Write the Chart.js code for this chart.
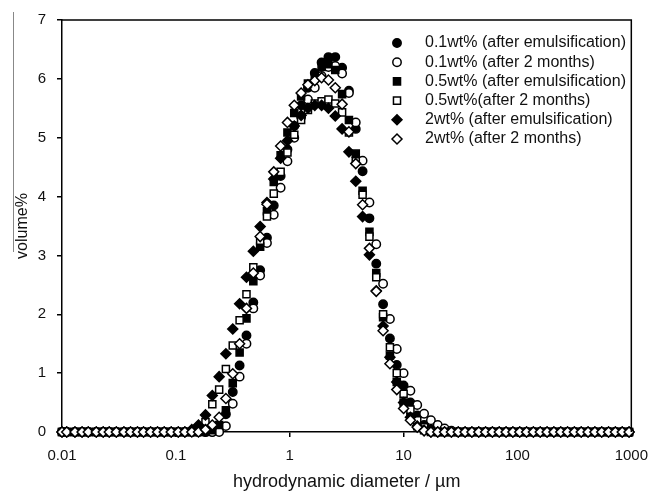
<!DOCTYPE html>
<html>
<head>
<meta charset="utf-8">
<title>Particle size distribution</title>
<script src="https://cdn.jsdelivr.net/npm/chart.js@4.4.1/dist/chart.umd.min.js"></script>
<style>
  html, body { margin: 0; padding: 0; background: #fff; }
  canvas { display: block; }
</style>
</head>
<body>
<canvas id="psd" width="658" height="494"></canvas>
<script>
// size classes (µm), log spaced
const sizes = [
  0.010, 0.011, 0.013, 0.015, 0.017, 0.020, 0.023, 0.026, 0.030, 0.035,
  0.040, 0.046, 0.052, 0.060, 0.069, 0.079, 0.091, 0.105, 0.120, 0.138,
  0.158, 0.182, 0.209, 0.240, 0.275, 0.316, 0.363, 0.417, 0.479, 0.550,
  0.631, 0.724, 0.832, 0.955, 1.096, 1.259, 1.445, 1.660, 1.905, 2.188,
  2.512, 2.884, 3.311, 3.802, 4.365, 5.012, 5.754, 6.607, 7.586, 8.710,
  10.00, 11.48, 13.18, 15.14, 17.38, 19.95, 22.91, 26.30, 30.20, 34.67,
  39.81, 45.71, 52.48, 60.26, 69.18, 79.43, 91.20, 104.7, 120.2, 138.0,
  158.5, 182.0, 208.9, 239.9, 275.4, 316.2, 363.1, 416.9, 478.6, 549.5,
  631.0, 724.4, 831.8, 955.0
];

const wt01Fresh = [
  0, 0, 0, 0, 0, 0, 0, 0, 0, 0,
  0, 0, 0, 0, 0, 0, 0, 0, 0, 0,
  0, 0, 0, 0.05, 0.30, 0.68, 1.13, 1.64, 2.20, 2.75,
  3.30, 3.85, 4.35, 4.80, 5.20, 5.55, 5.85, 6.10, 6.28, 6.37,
  6.37, 6.19, 5.80, 5.15, 4.43, 3.63, 2.86, 2.17, 1.59, 1.14,
  0.79, 0.50, 0.28, 0.12, 0.04, 0, 0, 0, 0, 0,
  0, 0, 0, 0, 0, 0, 0, 0, 0, 0,
  0, 0, 0, 0, 0, 0, 0, 0, 0, 0,
  0, 0, 0, 0
];
const wt01Aged = [
  0, 0, 0, 0, 0, 0, 0, 0, 0, 0,
  0, 0, 0, 0, 0, 0, 0, 0, 0, 0,
  0, 0, 0, 0, 0.10, 0.48, 0.94, 1.50, 2.10, 2.66,
  3.21, 3.69, 4.15, 4.60, 5.00, 5.35, 5.65, 5.85, 6.05, 6.20,
  6.22, 6.09, 5.76, 5.26, 4.61, 3.90, 3.19, 2.52, 1.92, 1.41,
  1.00, 0.70, 0.46, 0.31, 0.20, 0.12, 0.06, 0.02, 0, 0,
  0, 0, 0, 0, 0, 0, 0, 0, 0, 0,
  0, 0, 0, 0, 0, 0, 0, 0, 0, 0,
  0, 0, 0, 0
];
const wt05Fresh = [
  0, 0, 0, 0, 0, 0, 0, 0, 0, 0,
  0, 0, 0, 0, 0, 0, 0, 0, 0, 0,
  0, 0, 0.03, 0.12, 0.37, 0.83, 1.35, 1.93, 2.56, 3.15,
  3.75, 4.25, 4.70, 5.09, 5.42, 5.70, 5.92, 6.05, 6.20, 6.25,
  6.15, 5.74, 5.30, 4.73, 4.10, 3.40, 2.70, 1.95, 1.30, 0.85,
  0.50, 0.25, 0.10, 0.03, 0, 0, 0, 0, 0, 0,
  0, 0, 0, 0, 0, 0, 0, 0, 0, 0,
  0, 0, 0, 0, 0, 0, 0, 0, 0, 0,
  0, 0, 0, 0
];
const wt05Aged = [
  0, 0, 0, 0, 0, 0, 0, 0, 0, 0,
  0, 0, 0, 0, 0, 0, 0, 0, 0, 0,
  0.05, 0.17, 0.47, 0.72, 1.07, 1.47, 1.90, 2.34, 2.80, 3.25,
  3.66, 4.05, 4.42, 4.75, 5.05, 5.30, 5.47, 5.58, 5.62, 5.65,
  5.58, 5.43, 5.09, 4.60, 4.03, 3.32, 2.63, 2.00, 1.44, 1.00,
  0.65, 0.38, 0.20, 0.08, 0.02, 0, 0, 0, 0, 0,
  0, 0, 0, 0, 0, 0, 0, 0, 0, 0,
  0, 0, 0, 0, 0, 0, 0, 0, 0, 0,
  0, 0, 0, 0
];
const wt2Fresh = [
  0, 0, 0, 0, 0, 0, 0, 0, 0, 0,
  0, 0, 0, 0, 0, 0, 0, 0, 0, 0.04,
  0.12, 0.29, 0.62, 0.94, 1.33, 1.75, 2.18, 2.63, 3.07, 3.49,
  3.90, 4.30, 4.65, 4.95, 5.20, 5.38, 5.50, 5.55, 5.55, 5.50,
  5.37, 5.15, 4.76, 4.26, 3.66, 3.01, 2.40, 1.80, 1.27, 0.85,
  0.50, 0.25, 0.10, 0.03, 0, 0, 0, 0, 0, 0,
  0, 0, 0, 0, 0, 0, 0, 0, 0, 0,
  0, 0, 0, 0, 0, 0, 0, 0, 0, 0,
  0, 0, 0, 0
];
const wt2Aged = [
  0, 0, 0, 0, 0, 0, 0, 0, 0, 0,
  0, 0, 0, 0, 0, 0, 0, 0, 0, 0,
  0, 0.04, 0.12, 0.25, 0.57, 0.99, 1.50, 2.10, 2.70, 3.32,
  3.87, 4.42, 4.86, 5.26, 5.55, 5.76, 5.90, 5.97, 6.02, 5.98,
  5.85, 5.57, 5.10, 4.56, 3.86, 3.12, 2.39, 1.72, 1.16, 0.72,
  0.40, 0.20, 0.08, 0.02, 0, 0, 0, 0, 0, 0,
  0, 0, 0, 0, 0, 0, 0, 0, 0, 0,
  0, 0, 0, 0, 0, 0, 0, 0, 0, 0,
  0, 0, 0, 0
];

const seriesLabels = [
  '0.1wt% (after emulsification)',
  '0.1wt% (after 2 months)',
  '0.5wt% (after emulsification)',
  '0.5wt%(after 2 months)',
  '2wt% (after emulsification)',
  '2wt% (after 2 months)'
];
const seriesValues = [wt01Fresh, wt01Aged, wt05Fresh, wt05Aged, wt2Fresh, wt2Aged];

const xTickValues = [0.01, 0.1, 1, 10, 100, 1000];
const xTickLabels = ['0.01', '0.1', '1', '10', '100', '1000'];

const FONT = '"Liberation Sans", Arial, sans-serif';
const INK = '#111';

// marker per series: shape, filled or hollow
const markers = [
  { style: 'circle', r: 4.2, filled: true },
  { style: 'circle', r: 4.2, filled: false },
  { style: 'rect', r: 5, filled: true },
  { style: 'rect', r: 5, filled: false },
  { style: 'rectRot', r: 5, filled: true },
  { style: 'rectRot', r: 5, filled: false }
];

const datasets = seriesValues.map((vals, i) => ({
  label: seriesLabels[i],
  data: vals.map((v, j) => ({ x: sizes[j], y: v })),
  pointStyle: markers[i].style,
  pointRadius: markers[i].r,
  pointBorderWidth: 1.5,
  pointBackgroundColor: markers[i].filled ? '#000' : '#fff',
  pointBorderColor: '#000',
  showLine: false,
  clip: false,
  // later series sit on top
  order: seriesValues.length - i
}));

// legend drawn inside the plot, top right
const insideLegend = {
  id: 'insideLegend',
  afterDatasetsDraw(chart) {
    const ctx = chart.ctx;
    ctx.save();
    seriesLabels.forEach((label, i) => {
      const y = 43 + i * 19.2;
      const m = markers[i];
      ctx.fillStyle = m.filled ? '#000' : '#fff';
      ctx.strokeStyle = '#000';
      ctx.lineWidth = 1.5;
      Chart.helpers.drawPoint(ctx, { pointStyle: m.style, radius: m.r, borderWidth: 1.5, rotation: 0 }, 397, y);
      ctx.fillStyle = INK;
      ctx.font = '16px ' + FONT;
      ctx.textBaseline = 'middle';
      ctx.textAlign = 'left';
      ctx.fillText(label, 425, y);
    });
    ctx.restore();
  }
};

// box round the plot area, plus the rule beside the y title
const frame = {
  id: 'frame',
  afterDraw(chart) {
    const { ctx, chartArea: a } = chart;
    ctx.save();
    ctx.strokeStyle = '#000';
    ctx.lineWidth = 1.5;
    ctx.beginPath();
    ctx.moveTo(a.left, a.top);
    ctx.lineTo(a.right, a.top);
    ctx.lineTo(a.right, a.bottom);
    ctx.stroke();
    ctx.strokeStyle = '#888';
    ctx.lineWidth = 1;
    ctx.beginPath();
    ctx.moveTo(13.5, 12);
    ctx.lineTo(13.5, 252);
    ctx.stroke();
    ctx.restore();
  }
};

new Chart(document.getElementById('psd'), {
  type: 'scatter',
  data: { datasets },
  plugins: [insideLegend, frame],
  options: {
    responsive: false,
    animation: false,
    layout: { padding: { left: 0, right: 19, top: 17, bottom: 0 } },
    plugins: {
      legend: { display: false },
      tooltip: { enabled: false }
    },
    scales: {
      x: {
        type: 'logarithmic',
        min: 0.01,
        max: 1000,
        afterBuildTicks: (scale) => {
          scale.ticks = xTickValues.map(v => ({ value: v, major: true }));
        },
        afterFit: (scale) => { scale.height = 62; },
        ticks: {
          callback: (v, i) => xTickLabels[i],
          color: INK,
          font: { family: FONT, size: 15 },
          padding: 10,
          maxRotation: 0,
          autoSkip: false
        },
        grid: { drawOnChartArea: false, drawTicks: true, tickLength: 5, color: '#000', lineWidth: 1.5 },
        border: { color: '#000', width: 1.5 },
        title: {
          display: true,
          text: 'hydrodynamic diameter / µm',
          color: INK,
          font: { family: FONT, size: 18 },
          padding: { top: 0, bottom: 1 }
        }
      },
      y: {
        min: 0,
        max: 7,
        afterFit: (scale) => { scale.width = 62; },
        ticks: {
          stepSize: 1,
          color: INK,
          font: { family: FONT, size: 15 },
          padding: 11
        },
        grid: { drawOnChartArea: false, drawTicks: true, tickLength: 5, color: '#000', lineWidth: 1.5 },
        border: { color: '#000', width: 1.5 },
        title: {
          display: true,
          text: 'volume%',
          color: INK,
          font: { family: FONT, size: 16 },
          padding: { top: 13, bottom: 0 }
        }
      }
    }
  }
});
</script>
</body>
</html>
